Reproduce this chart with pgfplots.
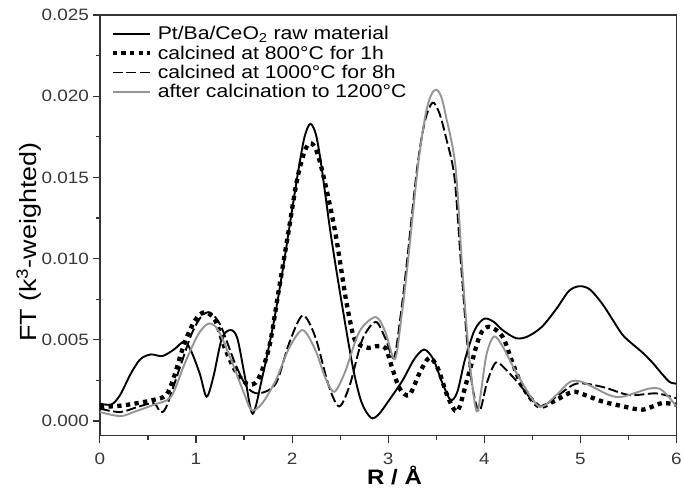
\documentclass[border=0pt]{standalone}
\usepackage{pgfplots}
\pgfplotsset{compat=1.18}
\usepackage{fontspec}
\setmainfont{Liberation Sans}[FakeStretch=1.15]
\newcommand\tickfont{\fontsize{16.5}{19}\selectfont}
\newcommand\legfont{\fontsize{18.5}{21}\selectfont}
\begin{document}
\begin{tikzpicture}
\begin{axis}[name=ax,
  scale only axis, width=577bp, height=421bp,
  xmin=0, xmax=6, ymin=-0.0009, ymax=0.025,
  axis line style={black!80, line width=1.3bp},
  xtick={0,1,2,3,4,5,6}, minor x tick num=1,
  ytick={0,0.005,0.01,0.015,0.02,0.025}, minor y tick num=1,
  tick align=outside, tick pos=left,
  major tick length=7bp, minor tick length=4bp,
  tick style={black!80, line width=1.1bp},
  scaled y ticks=false,
  /pgf/number format/assume math mode=true,
  yticklabel style={/pgf/number format/.cd, fixed, fixed zerofill, precision=3, /tikz/.cd, xshift=-0.5bp},
  xticklabel style={yshift=-7bp},
  ticklabel style={font=\tickfont, text=black!78},
  xlabel={R / Å},
  xlabel style={at={(axis description cs:0.511,-0.117)}, anchor=base, font=\bfseries\fontsize{21}{24}\selectfont},
  ylabel={FT (k\textsuperscript{3}-weighted)},
  ylabel style={at={(axis description cs:-0.123,0.46)}, anchor=center, font=\fontsize{23.5}{27}\selectfont},
  legend style={draw=none, fill=none, at={(axis description cs:0.018,0.978)}, anchor=north west, font=\legfont, inner sep=0pt, row sep=0.5bp, column sep=4bp, nodes={inner sep=2bp}},
  legend cell align=left,
  legend image code/.code={\draw[#1] (0bp,0bp) -- (37bp,0bp);},
  every axis plot/.append style={smooth, tension=0.5},
]
% raw material
\addplot[black, line width=1.9bp] coordinates {
(0,0.00107) (0.12,0.00102) (0.21,0.0016) (0.32,0.0029) (0.42,0.0038) (0.53,0.0041) (0.65,0.0040) (0.77,0.0044) (0.88,0.0049) (0.95,0.0043) (1.04,0.0029) (1.11,0.0015) (1.18,0.0027) (1.27,0.0051) (1.36,0.0056) (1.43,0.0051) (1.51,0.0027) (1.59,0.00045) (1.69,0.0027) (1.80,0.0058) (1.90,0.0092) (2.00,0.0130) (2.07,0.0156) (2.13,0.0175) (2.19,0.0183) (2.25,0.0176) (2.31,0.0155) (2.40,0.0116) (2.51,0.0075) (2.63,0.0034) (2.72,0.0012) (2.82,0.0002) (2.90,0.0004) (3.0,0.0012) (3.15,0.0025) (3.27,0.0038) (3.375,0.0044) (3.47,0.0038) (3.56,0.0024) (3.65,0.0013) (3.72,0.0018) (3.80,0.0038) (3.90,0.0056) (4.0,0.0063) (4.10,0.0061) (4.19,0.0056) (4.33,0.0051) (4.45,0.0052) (4.60,0.0058) (4.75,0.0069) (4.88,0.0080) (4.99,0.0083) (5.10,0.0081) (5.23,0.0072) (5.34,0.0062) (5.44,0.0053) (5.55,0.0047) (5.65,0.0042) (5.75,0.0036) (5.85,0.0029) (5.93,0.0024) (6.0,0.0023)
};
\addlegendentry{Pt/Ba/CeO\textsubscript{2} raw material}
% 800 C 1h
\addplot[black, line width=4.3bp, line cap=butt, dash pattern=on 4.3bp off 4.4bp] coordinates {
(0,0.00086) (0.21,0.00094) (0.39,0.0011) (0.56,0.0013) (0.69,0.0016) (0.77,0.0027) (0.88,0.0048) (0.99,0.0062) (1.09,0.0067) (1.20,0.0062) (1.30,0.0045) (1.41,0.0031) (1.53,0.0023) (1.64,0.0025) (1.76,0.0045) (1.86,0.0080) (1.95,0.0112) (2.05,0.0148) (2.13,0.0166) (2.19,0.0171) (2.25,0.0167) (2.33,0.0150) (2.45,0.0116) (2.56,0.0075) (2.64,0.0052) (2.70,0.0047) (2.80,0.0045) (2.87,0.0046) (2.97,0.0045) (3.04,0.0033) (3.12,0.0020) (3.22,0.0016) (3.33,0.0030) (3.43,0.0039) (3.52,0.0032) (3.62,0.0015) (3.72,0.0006) (3.82,0.0025) (3.95,0.0052) (4.05,0.0058) (4.19,0.0052) (4.30,0.0035) (4.40,0.0021) (4.57,0.0009) (4.75,0.0013) (4.92,0.0018) (5.05,0.0016) (5.23,0.0012) (5.45,0.0009) (5.65,0.0007) (5.85,0.0011) (6.0,0.0010)
};
\addlegendentry{calcined at 800°C for 1h}
% 1000 C 8h
\addplot[black, line width=1.9bp, dash pattern=on 10bp off 3.5bp] coordinates {
(0,0.00076) (0.21,0.00055) (0.39,0.00086) (0.56,0.0011) (0.63,0.00055) (0.69,0.00086) (0.81,0.0029) (0.95,0.0053) (1.05,0.0064) (1.13,0.0067) (1.20,0.0064) (1.27,0.0057) (1.41,0.0035) (1.53,0.0021) (1.65,0.0017) (1.83,0.0023) (1.97,0.0048) (2.11,0.0065) (2.24,0.0052) (2.38,0.0022) (2.49,0.0009) (2.60,0.0022) (2.73,0.0050) (2.87,0.0061) (2.97,0.0051) (3.06,0.0039) (3.13,0.0065) (3.19,0.0095) (3.30,0.0155) (3.38,0.0184) (3.46,0.0196) (3.53,0.0190) (3.60,0.0175) (3.69,0.0150) (3.76,0.0095) (3.82,0.0050) (3.88,0.0020) (3.95,0.0006) (4.03,0.0024) (4.12,0.0036) (4.22,0.0032) (4.36,0.0023) (4.57,0.0009) (4.75,0.0015) (4.96,0.0023) (5.23,0.0021) (5.51,0.0016) (5.79,0.0017) (6.0,0.0014)
};
\addlegendentry{calcined at 1000°C for 8h}
% 1200 C
\addplot[black!42, line width=1.9bp] coordinates {
(0,0.00055) (0.21,0.0003) (0.35,0.00055) (0.56,0.0010) (0.74,0.0015) (0.88,0.0035) (1.02,0.0053) (1.13,0.0060) (1.23,0.0056) (1.37,0.0037) (1.50,0.0017) (1.58,0.00066) (1.69,0.0011) (1.83,0.0025) (1.97,0.0045) (2.11,0.0056) (2.24,0.0044) (2.35,0.0026) (2.44,0.0018) (2.55,0.0030) (2.70,0.0055) (2.87,0.0064) (2.97,0.0055) (3.07,0.0038) (3.14,0.0065) (3.20,0.0095) (3.31,0.0157) (3.39,0.0189) (3.45,0.0201) (3.50,0.0204) (3.55,0.0200) (3.60,0.0188) (3.70,0.0157) (3.77,0.0095) (3.82,0.0055) (3.87,0.0025) (3.93,0.0006) (4.02,0.0040) (4.10,0.0052) (4.19,0.0046) (4.36,0.0027) (4.57,0.0009) (4.75,0.0016) (4.89,0.0024) (5.02,0.0024) (5.30,0.0016) (5.44,0.0015) (5.72,0.0020) (5.85,0.0019) (6.0,0.0009)
};
\addlegendentry{after calcination to 1200°C}
\end{axis}
\path ([shift={(-100bp,-61bp)}]ax.south west) rectangle ([shift={(8bp,15bp)}]ax.north east);
\end{tikzpicture}
\end{document}
